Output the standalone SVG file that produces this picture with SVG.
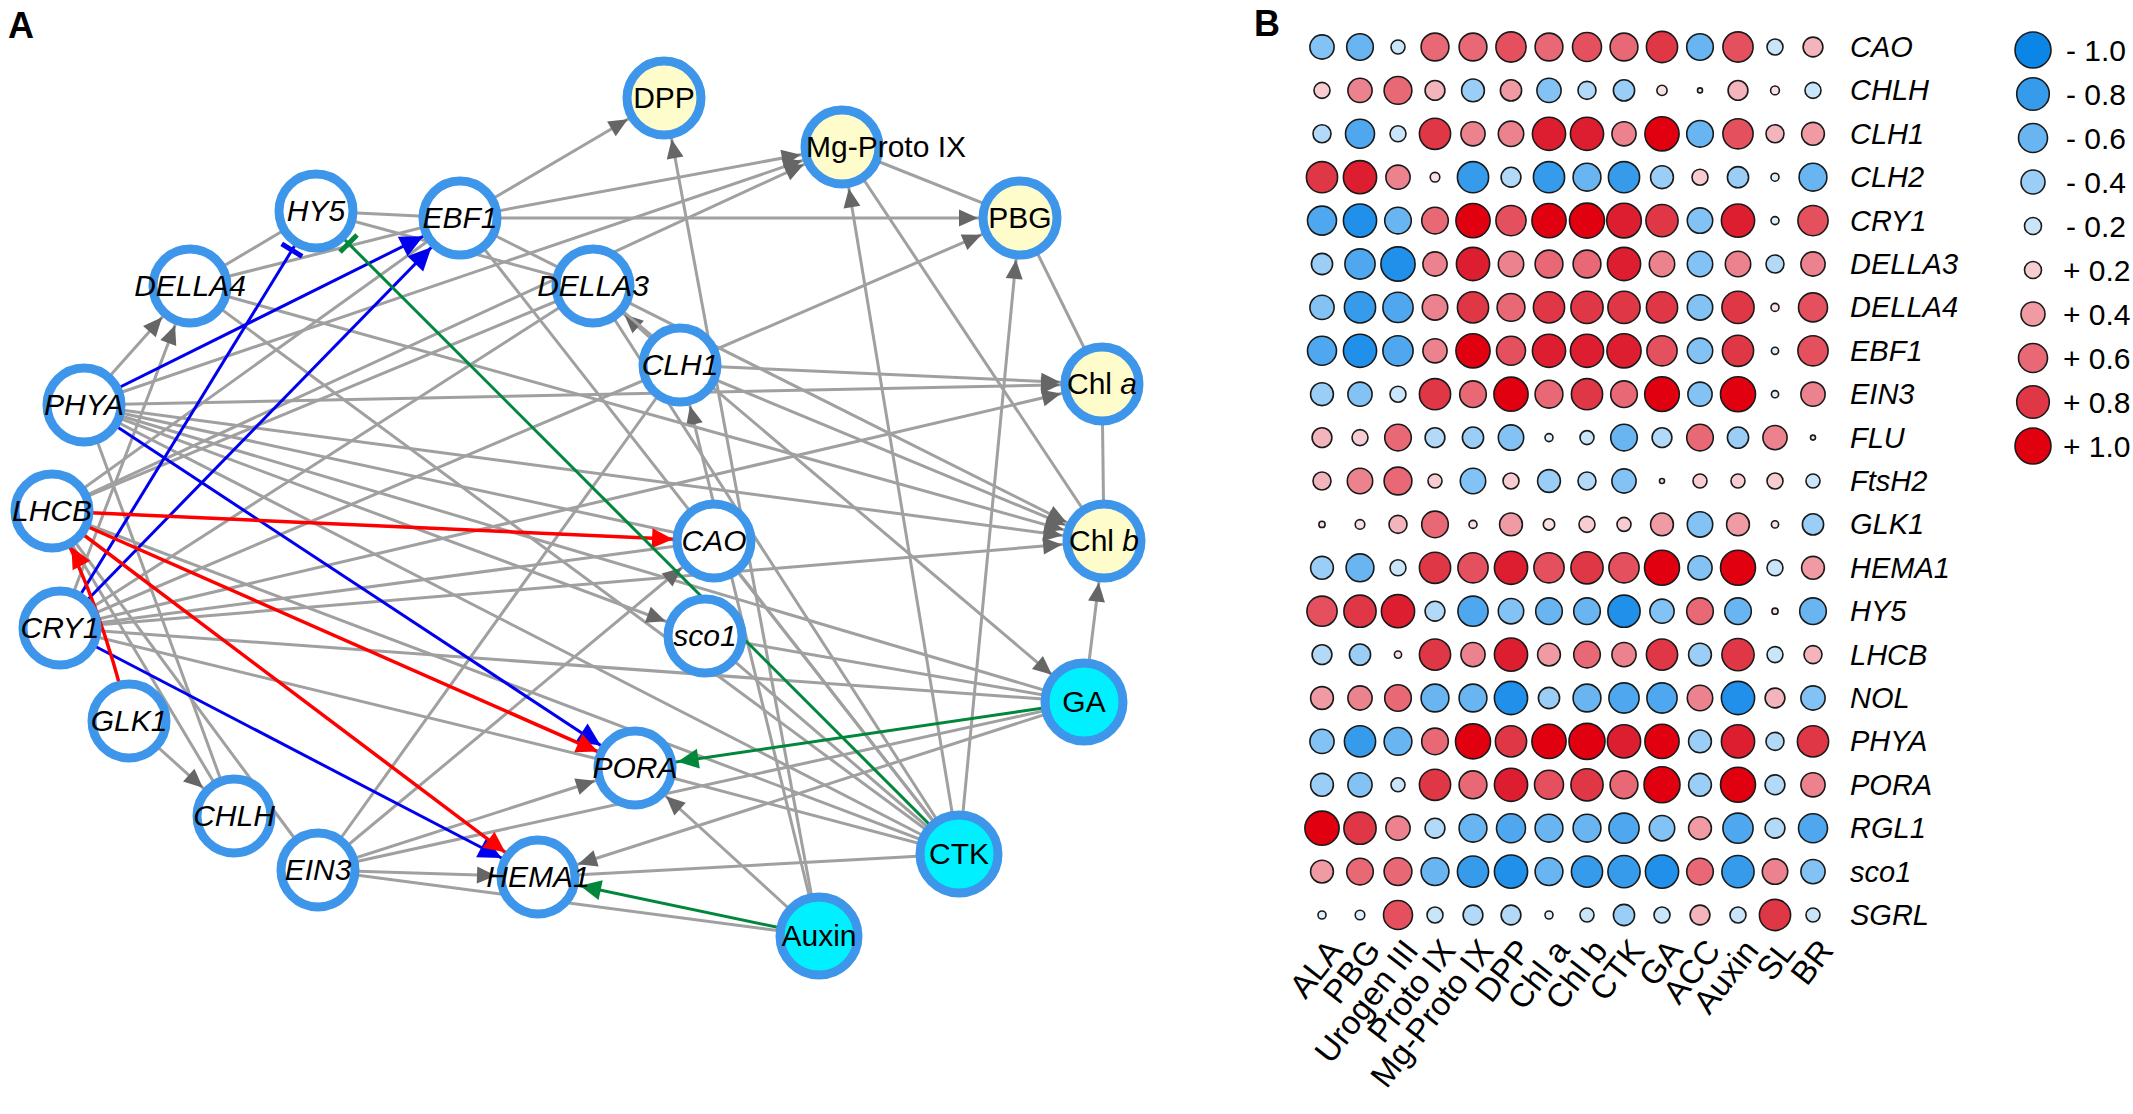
<svg xmlns="http://www.w3.org/2000/svg" width="2133" height="1114" viewBox="0 0 2133 1114">
<style>
.e{stroke:#a0a0a0;stroke-width:3;fill:none}
.ea{marker-end:url(#ag)}
.eb{stroke:#0000ee;stroke-width:3;fill:none;marker-end:url(#ab)}
.ebt{stroke:#0000ee;stroke-width:3;fill:none;marker-end:url(#tb)}
.er{stroke:#ff0000;stroke-width:3.5;fill:none;marker-end:url(#ar)}
.eg{stroke:#00873c;stroke-width:3;fill:none;marker-end:url(#agr)}
.egt{stroke:#00873c;stroke-width:3;fill:none;marker-end:url(#tg)}
.ring{stroke:#3d96ea;stroke-width:9}
.gene{fill:#ffffff}
.met{fill:#fffccb}
.hor{fill:#00f0ff}
.t{font-family:"Liberation Sans",Arial,sans-serif;font-size:30px;text-anchor:middle;fill:#000}
.i{font-style:italic}
.lab{font-family:"Liberation Sans",Arial,sans-serif;font-size:36px;font-weight:bold}
.dots circle{stroke:#1a1a1a;stroke-width:1.6}
.rl{font-family:"Liberation Sans",Arial,sans-serif;font-size:29px;font-style:italic}
.cl{font-family:"Liberation Sans",Arial,sans-serif;font-size:33px;text-anchor:end}
.lg{font-family:"Liberation Sans",Arial,sans-serif;font-size:30px}
.b1{fill:#dcefFc}.b2{fill:#c8e5fa}.b3{fill:#b2daf8}.b4{fill:#9aceF6}.b5{fill:#82c2f4}.b6{fill:#68b5f2}.b7{fill:#4fa8ef}.b8{fill:#379bec}.b9{fill:#2190ea}.b10{fill:#0b86e6}
.r1{fill:#fbe0e3}.r2{fill:#f8ccd1}.r3{fill:#f4b4bb}.r4{fill:#f09ba4}.r5{fill:#ec828d}.r6{fill:#e86975}.r7{fill:#e4505e}.r8{fill:#e03747}.r9{fill:#dd1e30}.r10{fill:#e0000f}
</style>
<defs>
<marker id="ag" markerUnits="userSpaceOnUse" viewBox="-70 -15 80 30" markerWidth="80" markerHeight="30" refX="0" refY="0" orient="auto"><path d="M-42,0 L-61,-8.5 L-61,8.5 Z" fill="#666"/></marker>
<marker id="ab" markerUnits="userSpaceOnUse" viewBox="-70 -15 80 30" markerWidth="80" markerHeight="30" refX="0" refY="0" orient="auto"><path d="M-41,0 L-64,-11 L-64,11 Z" fill="#0000ee"/></marker>
<marker id="ar" markerUnits="userSpaceOnUse" viewBox="-70 -15 80 30" markerWidth="80" markerHeight="30" refX="0" refY="0" orient="auto"><path d="M-41,0 L-62,-10 L-62,10 Z" fill="#ff0000"/></marker>
<marker id="agr" markerUnits="userSpaceOnUse" viewBox="-70 -15 80 30" markerWidth="80" markerHeight="30" refX="0" refY="0" orient="auto"><path d="M-43,0 L-64,-10 L-64,10 Z" fill="#00873c"/></marker>
<marker id="tb" markerUnits="userSpaceOnUse" viewBox="-70 -15 80 30" markerWidth="80" markerHeight="30" refX="0" refY="0" orient="auto"><path d="M-46,-12 L-46,12" stroke="#0000ee" stroke-width="5"/></marker>
<marker id="tg" markerUnits="userSpaceOnUse" viewBox="-70 -15 80 30" markerWidth="80" markerHeight="30" refX="0" refY="0" orient="auto"><path d="M-46,-12 L-46,12" stroke="#00873c" stroke-width="5"/></marker>
</defs>
<rect width="2133" height="1114" fill="#fff"/>
<text class="lab" x="8" y="38">A</text>
<text class="lab" x="1254" y="36">B</text>

<g id="connectors">
<g id="gray-undirected" class="e">
<line x1="316" y1="211" x2="460" y2="218"/>
<line x1="316" y1="211" x2="190" y2="286"/>
<line x1="190" y1="286" x2="460" y2="218"/>
<line x1="316" y1="211" x2="593" y2="286"/>
<line x1="842" y1="147" x2="1020" y2="218"/>
<line x1="842" y1="147" x2="1104" y2="541"/>
<line x1="1020" y1="218" x2="1102" y2="384"/>
<line x1="1102" y1="384" x2="1104" y2="541"/>
<line x1="460" y1="218" x2="959" y2="854"/>
<line x1="593" y1="286" x2="959" y2="854"/>
<line x1="714" y1="541" x2="959" y2="854"/>
<line x1="705" y1="636" x2="1084" y2="702"/>
<line x1="705" y1="636" x2="959" y2="854"/>
<line x1="84" y1="405" x2="1084" y2="702"/>
<line x1="84" y1="405" x2="714" y2="541"/>
<line x1="52" y1="511" x2="234" y2="816"/>
<line x1="52" y1="511" x2="318" y2="870"/>
<line x1="52" y1="511" x2="959" y2="854"/>
<line x1="52" y1="511" x2="460" y2="218"/>
<line x1="60" y1="628" x2="680" y2="365"/>
<line x1="60" y1="628" x2="714" y2="541"/>
<line x1="60" y1="628" x2="1084" y2="702"/>
<line x1="60" y1="628" x2="635" y2="768"/>
<line x1="318" y1="870" x2="680" y2="365"/>
<line x1="318" y1="870" x2="1084" y2="702"/>
<line x1="318" y1="870" x2="819" y2="936"/>
<line x1="635" y1="768" x2="959" y2="854"/>
<line x1="538" y1="877" x2="959" y2="854"/>
<line x1="190" y1="286" x2="959" y2="854"/>
<line x1="84" y1="405" x2="959" y2="854"/>
<line x1="52" y1="511" x2="593" y2="286"/>
<line x1="60" y1="628" x2="593" y2="286"/>
<line x1="84" y1="405" x2="234" y2="816"/>
</g>
<g id="gray-directed" class="e ea">
<line x1="84" y1="405" x2="190" y2="286"/>
<line x1="60" y1="628" x2="190" y2="286"/>
<line x1="460" y1="218" x2="664" y2="98"/>
<line x1="819" y1="936" x2="664" y2="98"/>
<line x1="460" y1="218" x2="842" y2="147"/>
<line x1="84" y1="405" x2="842" y2="147"/>
<line x1="52" y1="511" x2="842" y2="147"/>
<line x1="959" y1="854" x2="842" y2="147"/>
<line x1="460" y1="218" x2="1020" y2="218"/>
<line x1="680" y1="365" x2="1020" y2="218"/>
<line x1="959" y1="854" x2="1020" y2="218"/>
<line x1="680" y1="365" x2="593" y2="286"/>
<line x1="819" y1="936" x2="680" y2="365"/>
<line x1="680" y1="365" x2="1102" y2="384"/>
<line x1="84" y1="405" x2="1102" y2="384"/>
<line x1="60" y1="628" x2="1102" y2="384"/>
<line x1="680" y1="365" x2="1104" y2="541"/>
<line x1="84" y1="405" x2="1104" y2="541"/>
<line x1="190" y1="286" x2="1104" y2="541"/>
<line x1="460" y1="218" x2="1104" y2="541"/>
<line x1="60" y1="628" x2="1104" y2="541"/>
<line x1="1084" y1="702" x2="1104" y2="541"/>
<line x1="318" y1="870" x2="714" y2="541"/>
<line x1="84" y1="405" x2="705" y2="636"/>
<line x1="593" y1="286" x2="1084" y2="702"/>
<line x1="318" y1="870" x2="635" y2="768"/>
<line x1="819" y1="936" x2="635" y2="768"/>
<line x1="318" y1="870" x2="538" y2="877"/>
<line x1="1084" y1="702" x2="538" y2="877"/>
<line x1="129" y1="721" x2="234" y2="816"/>
</g>
<g id="colored">
<line class="eb" x1="84" y1="405" x2="460" y2="218"/>
<line class="eb" x1="60" y1="628" x2="460" y2="218"/>
<line class="ebt" x1="60" y1="628" x2="316" y2="211"/>
<line class="eb" x1="84" y1="405" x2="635" y2="768"/>
<line class="eb" x1="60" y1="628" x2="538" y2="877"/>
<line class="er" x1="52" y1="511" x2="714" y2="541"/>
<line class="er" x1="52" y1="511" x2="635" y2="768"/>
<line class="er" x1="52" y1="511" x2="538" y2="877"/>
<path class="er" d="M129,721 Q100,600 52,511"/>
<line class="egt" x1="959" y1="854" x2="316" y2="211"/>
<line class="eg" x1="1084" y1="702" x2="635" y2="768"/>
<line class="eg" x1="819" y1="936" x2="538" y2="877"/>
</g>
</g>

<g id="node-DPP"><circle class="ring met" cx="664" cy="98" r="37"/><text class="t" x="664" y="108">DPP</text></g>
<g id="node-MgProtoIX"><circle class="ring met" cx="842" cy="147" r="37"/><text class="t" x="806" y="157" style="text-anchor:start">Mg-Proto IX</text></g>
<g id="node-PBG"><circle class="ring met" cx="1020" cy="218" r="37"/><text class="t" x="1020" y="228">PBG</text></g>
<g id="node-HY5"><circle class="ring gene" cx="316" cy="211" r="37"/><text class="t i" x="316" y="221">HY5</text></g>
<g id="node-EBF1"><circle class="ring gene" cx="460" cy="218" r="37"/><text class="t i" x="460" y="228">EBF1</text></g>
<g id="node-DELLA4"><circle class="ring gene" cx="190" cy="286" r="37"/><text class="t i" x="190" y="296">DELLA4</text></g>
<g id="node-DELLA3"><circle class="ring gene" cx="593" cy="286" r="37"/><text class="t i" x="593" y="296">DELLA3</text></g>
<g id="node-CLH1"><circle class="ring gene" cx="680" cy="365" r="37"/><text class="t i" x="680" y="375">CLH1</text></g>
<g id="node-Chla"><circle class="ring met" cx="1102" cy="384" r="37"/><text class="t" x="1102" y="394">Chl <tspan font-style="italic">a</tspan></text></g>
<g id="node-PHYA"><circle class="ring gene" cx="84" cy="405" r="37"/><text class="t i" x="84" y="415">PHYA</text></g>
<g id="node-LHCB"><circle class="ring gene" cx="52" cy="511" r="37"/><text class="t i" x="52" y="521">LHCB</text></g>
<g id="node-CAO"><circle class="ring gene" cx="714" cy="541" r="37"/><text class="t i" x="714" y="551">CAO</text></g>
<g id="node-Chlb"><circle class="ring met" cx="1104" cy="541" r="37"/><text class="t" x="1104" y="551">Chl <tspan font-style="italic">b</tspan></text></g>
<g id="node-CRY1"><circle class="ring gene" cx="60" cy="628" r="37"/><text class="t i" x="60" y="638">CRY1</text></g>
<g id="node-sco1"><circle class="ring gene" cx="705" cy="636" r="37"/><text class="t i" x="705" y="646">sco1</text></g>
<g id="node-GA"><circle class="ring hor" cx="1084" cy="702" r="39"/><text class="t" x="1084" y="712">GA</text></g>
<g id="node-PORA"><circle class="ring gene" cx="635" cy="768" r="37"/><text class="t i" x="635" y="778">PORA</text></g>
<g id="node-GLK1"><circle class="ring gene" cx="129" cy="721" r="37"/><text class="t i" x="129" y="731">GLK1</text></g>
<g id="node-CHLH"><circle class="ring gene" cx="234" cy="816" r="37"/><text class="t i" x="234" y="826">CHLH</text></g>
<g id="node-CTK"><circle class="ring hor" cx="959" cy="854" r="39"/><text class="t" x="959" y="864">CTK</text></g>
<g id="node-EIN3"><circle class="ring gene" cx="318" cy="870" r="37"/><text class="t i" x="318" y="880">EIN3</text></g>
<g id="node-HEMA1"><circle class="ring gene" cx="538" cy="877" r="37"/><text class="t i" x="538" y="887">HEMA1</text></g>
<g id="node-Auxin"><circle class="ring hor" cx="819" cy="936" r="39"/><text class="t" x="819" y="946">Auxin</text></g>

<g id="dotplot" class="dots">
<g transform="translate(0,47)"><circle cx="1322" r="12.1" class="b5"/><circle cx="1360" r="13.3" class="b6"/><circle cx="1398" r="7" class="b2"/><circle cx="1435" r="13.9" class="r6"/><circle cx="1473" r="13.9" class="r6"/><circle cx="1511" r="15.1" class="r7"/><circle cx="1549" r="13.9" class="r6"/><circle cx="1587" r="14.5" class="r7"/><circle cx="1624" r="13.9" class="r6"/><circle cx="1662" r="15.6" class="r8"/><circle cx="1700" r="13.3" class="b6"/><circle cx="1738" r="15.1" class="r7"/><circle cx="1775" r="8" class="b2"/><circle cx="1813" r="9.9" class="r3"/></g>
<g transform="translate(0,90.4)"><circle cx="1322" r="8" class="r2"/><circle cx="1360" r="12.1" class="r5"/><circle cx="1398" r="13.9" class="r6"/><circle cx="1435" r="9.9" class="r3"/><circle cx="1473" r="11.4" class="b4"/><circle cx="1511" r="10.6" class="r4"/><circle cx="1549" r="12.1" class="b5"/><circle cx="1587" r="9" class="b3"/><circle cx="1624" r="10.6" class="b4"/><circle cx="1662" r="5.1" class="r1"/><circle cx="1700" r="2.5" class="r1"/><circle cx="1738" r="9.9" class="r3"/><circle cx="1775" r="4.4" class="r1"/><circle cx="1813" r="8" class="b2"/></g>
<g transform="translate(0,133.8)"><circle cx="1322" r="9" class="b3"/><circle cx="1360" r="14.5" class="b7"/><circle cx="1398" r="8" class="b2"/><circle cx="1435" r="15.6" class="r8"/><circle cx="1473" r="12.1" class="r5"/><circle cx="1511" r="12.7" class="r5"/><circle cx="1549" r="16.6" class="r9"/><circle cx="1587" r="16.6" class="r9"/><circle cx="1624" r="12.1" class="r5"/><circle cx="1662" r="17.1" class="r10"/><circle cx="1700" r="13.3" class="b6"/><circle cx="1738" r="15.1" class="r7"/><circle cx="1775" r="9" class="r3"/><circle cx="1813" r="11.4" class="r4"/></g>
<g transform="translate(0,177.2)"><circle cx="1322" r="15.6" class="r8"/><circle cx="1360" r="16.6" class="r9"/><circle cx="1398" r="12.1" class="r5"/><circle cx="1435" r="4.8" class="r1"/><circle cx="1473" r="15.6" class="b8"/><circle cx="1511" r="9.9" class="b3"/><circle cx="1549" r="15.6" class="b8"/><circle cx="1587" r="13.9" class="b6"/><circle cx="1624" r="15.6" class="b8"/><circle cx="1662" r="11.4" class="b4"/><circle cx="1700" r="8" class="r2"/><circle cx="1738" r="10.6" class="b4"/><circle cx="1775" r="4" class="b1"/><circle cx="1813" r="13.9" class="b6"/></g>
<g transform="translate(0,220.6)"><circle cx="1322" r="14.5" class="b7"/><circle cx="1360" r="16.6" class="b9"/><circle cx="1398" r="13.3" class="b6"/><circle cx="1435" r="13.3" class="r6"/><circle cx="1473" r="17.1" class="r10"/><circle cx="1511" r="15.1" class="r7"/><circle cx="1549" r="17.1" class="r10"/><circle cx="1587" r="17.5" class="r10"/><circle cx="1624" r="17.3" class="r9"/><circle cx="1662" r="16.1" class="r8"/><circle cx="1700" r="12.7" class="b5"/><circle cx="1738" r="16.6" class="r9"/><circle cx="1775" r="4" class="b1"/><circle cx="1813" r="15.1" class="r7"/></g>
<g transform="translate(0,264)"><circle cx="1322" r="10.6" class="b4"/><circle cx="1360" r="15.1" class="b7"/><circle cx="1398" r="17.1" class="b9"/><circle cx="1435" r="12.1" class="r5"/><circle cx="1473" r="16.6" class="r9"/><circle cx="1511" r="12.7" class="r5"/><circle cx="1549" r="13.9" class="r6"/><circle cx="1587" r="13.9" class="r6"/><circle cx="1624" r="16.6" class="r9"/><circle cx="1662" r="12.7" class="r5"/><circle cx="1700" r="12.7" class="b5"/><circle cx="1738" r="12.7" class="r5"/><circle cx="1775" r="9" class="b3"/><circle cx="1813" r="12.1" class="r5"/></g>
<g transform="translate(0,307.4)"><circle cx="1322" r="12.1" class="b5"/><circle cx="1360" r="15.6" class="b8"/><circle cx="1398" r="15.1" class="b7"/><circle cx="1435" r="12.7" class="r5"/><circle cx="1473" r="15.6" class="r8"/><circle cx="1511" r="13.9" class="r6"/><circle cx="1549" r="15.6" class="r8"/><circle cx="1587" r="16.1" class="r8"/><circle cx="1624" r="16.1" class="r8"/><circle cx="1662" r="15.6" class="r8"/><circle cx="1700" r="12.7" class="b5"/><circle cx="1738" r="16.1" class="r8"/><circle cx="1775" r="4" class="r1"/><circle cx="1813" r="14.5" class="r7"/></g>
<g transform="translate(0,350.8)"><circle cx="1322" r="14.5" class="b7"/><circle cx="1360" r="16.6" class="b9"/><circle cx="1398" r="15.1" class="b7"/><circle cx="1435" r="12.1" class="r5"/><circle cx="1473" r="17.1" class="r10"/><circle cx="1511" r="14.5" class="r7"/><circle cx="1549" r="16.6" class="r9"/><circle cx="1587" r="16.6" class="r9"/><circle cx="1624" r="17.1" class="r9"/><circle cx="1662" r="15.1" class="r7"/><circle cx="1700" r="12.7" class="b5"/><circle cx="1738" r="15.6" class="r8"/><circle cx="1775" r="3.6" class="b1"/><circle cx="1813" r="15.1" class="r7"/></g>
<g transform="translate(0,394.2)"><circle cx="1322" r="11.4" class="b4"/><circle cx="1360" r="12.1" class="b5"/><circle cx="1398" r="8" class="b2"/><circle cx="1435" r="15.6" class="r8"/><circle cx="1473" r="13.3" class="r6"/><circle cx="1511" r="17.1" class="r10"/><circle cx="1549" r="13.9" class="r6"/><circle cx="1587" r="15.6" class="r8"/><circle cx="1624" r="13.3" class="r6"/><circle cx="1662" r="17.3" class="r10"/><circle cx="1700" r="12.1" class="b5"/><circle cx="1738" r="17.5" class="r10"/><circle cx="1775" r="3.6" class="b1"/><circle cx="1813" r="12.1" class="r5"/></g>
<g transform="translate(0,437.6)"><circle cx="1322" r="9.9" class="r3"/><circle cx="1360" r="8" class="r2"/><circle cx="1398" r="13.3" class="r6"/><circle cx="1435" r="9.9" class="b3"/><circle cx="1473" r="10.6" class="b4"/><circle cx="1511" r="12.7" class="b5"/><circle cx="1549" r="4" class="b1"/><circle cx="1587" r="7" class="b2"/><circle cx="1624" r="13.3" class="b6"/><circle cx="1662" r="9.9" class="b3"/><circle cx="1700" r="13.3" class="r6"/><circle cx="1738" r="10.6" class="b4"/><circle cx="1775" r="12.1" class="r5"/><circle cx="1813" r="2.5" class="r1"/></g>
<g transform="translate(0,481)"><circle cx="1322" r="9" class="r3"/><circle cx="1360" r="12.7" class="r5"/><circle cx="1398" r="13.9" class="r6"/><circle cx="1435" r="7" class="r2"/><circle cx="1473" r="12.7" class="b5"/><circle cx="1511" r="8" class="r2"/><circle cx="1549" r="11.4" class="b4"/><circle cx="1587" r="9" class="b3"/><circle cx="1624" r="12.1" class="b5"/><circle cx="1662" r="2.5" class="r1"/><circle cx="1700" r="7" class="r2"/><circle cx="1738" r="7" class="r2"/><circle cx="1775" r="8" class="r2"/><circle cx="1813" r="7" class="b2"/></g>
<g transform="translate(0,524.4)"><circle cx="1322" r="3.1" class="r1"/><circle cx="1360" r="4.8" class="r1"/><circle cx="1398" r="9" class="r3"/><circle cx="1435" r="13.3" class="r6"/><circle cx="1473" r="4" class="r1"/><circle cx="1511" r="11.4" class="r4"/><circle cx="1549" r="5.7" class="r1"/><circle cx="1587" r="8" class="r2"/><circle cx="1624" r="7" class="r2"/><circle cx="1662" r="11.4" class="r4"/><circle cx="1700" r="12.7" class="b5"/><circle cx="1738" r="11.4" class="r4"/><circle cx="1775" r="3.6" class="r1"/><circle cx="1813" r="10.6" class="b4"/></g>
<g transform="translate(0,567.8)"><circle cx="1322" r="11.4" class="b4"/><circle cx="1360" r="13.9" class="b6"/><circle cx="1398" r="8" class="b2"/><circle cx="1435" r="15.6" class="r8"/><circle cx="1473" r="15.1" class="r7"/><circle cx="1511" r="16.6" class="r9"/><circle cx="1549" r="15.1" class="r7"/><circle cx="1587" r="16.1" class="r8"/><circle cx="1624" r="15.1" class="r7"/><circle cx="1662" r="17.5" class="r10"/><circle cx="1700" r="12.1" class="b5"/><circle cx="1738" r="17.5" class="r10"/><circle cx="1775" r="8" class="b2"/><circle cx="1813" r="11.4" class="r4"/></g>
<g transform="translate(0,611.2)"><circle cx="1322" r="15.1" class="r7"/><circle cx="1360" r="16.1" class="r8"/><circle cx="1398" r="16.6" class="r9"/><circle cx="1435" r="9.9" class="b3"/><circle cx="1473" r="15.1" class="b7"/><circle cx="1511" r="12.7" class="b5"/><circle cx="1549" r="13.3" class="b6"/><circle cx="1587" r="13.3" class="b6"/><circle cx="1624" r="16.1" class="b9"/><circle cx="1662" r="12.1" class="b5"/><circle cx="1700" r="13.3" class="r6"/><circle cx="1738" r="13.3" class="b6"/><circle cx="1775" r="3.1" class="r1"/><circle cx="1813" r="13.3" class="b6"/></g>
<g transform="translate(0,654.6)"><circle cx="1322" r="9.9" class="b3"/><circle cx="1360" r="10.6" class="b4"/><circle cx="1398" r="3.6" class="r1"/><circle cx="1435" r="15.6" class="r8"/><circle cx="1473" r="12.1" class="r5"/><circle cx="1511" r="16.6" class="r9"/><circle cx="1549" r="11.4" class="r4"/><circle cx="1587" r="13.3" class="r6"/><circle cx="1624" r="12.1" class="r5"/><circle cx="1662" r="15.6" class="r8"/><circle cx="1700" r="11.4" class="b4"/><circle cx="1738" r="16.1" class="r8"/><circle cx="1775" r="8" class="b2"/><circle cx="1813" r="9" class="r3"/></g>
<g transform="translate(0,698)"><circle cx="1322" r="11.4" class="r4"/><circle cx="1360" r="12.1" class="r5"/><circle cx="1398" r="13.3" class="r6"/><circle cx="1435" r="13.9" class="b6"/><circle cx="1473" r="13.9" class="b6"/><circle cx="1511" r="16.6" class="b9"/><circle cx="1549" r="10.6" class="b4"/><circle cx="1587" r="13.9" class="b6"/><circle cx="1624" r="15.1" class="b7"/><circle cx="1662" r="15.1" class="b7"/><circle cx="1700" r="12.7" class="r5"/><circle cx="1738" r="16.6" class="b9"/><circle cx="1775" r="9.9" class="r3"/><circle cx="1813" r="12.1" class="b5"/></g>
<g transform="translate(0,741.4)"><circle cx="1322" r="12.1" class="b5"/><circle cx="1360" r="15.6" class="b8"/><circle cx="1398" r="13.9" class="b6"/><circle cx="1435" r="13.3" class="r6"/><circle cx="1473" r="17.5" class="r10"/><circle cx="1511" r="15.6" class="r8"/><circle cx="1549" r="17.1" class="r10"/><circle cx="1587" r="18" class="r10"/><circle cx="1624" r="16.6" class="r9"/><circle cx="1662" r="17.1" class="r10"/><circle cx="1700" r="11.4" class="b4"/><circle cx="1738" r="16.6" class="r9"/><circle cx="1775" r="9" class="b3"/><circle cx="1813" r="15.6" class="r8"/></g>
<g transform="translate(0,784.8)"><circle cx="1322" r="11.4" class="b4"/><circle cx="1360" r="12.1" class="b5"/><circle cx="1398" r="7" class="b2"/><circle cx="1435" r="15.6" class="r8"/><circle cx="1473" r="13.9" class="r6"/><circle cx="1511" r="16.6" class="r9"/><circle cx="1549" r="14.5" class="r7"/><circle cx="1587" r="16.1" class="r8"/><circle cx="1624" r="13.9" class="r6"/><circle cx="1662" r="18" class="r10"/><circle cx="1700" r="11.4" class="b4"/><circle cx="1738" r="17.5" class="r10"/><circle cx="1775" r="9.9" class="b3"/><circle cx="1813" r="12.1" class="r5"/></g>
<g transform="translate(0,828.2)"><circle cx="1322" r="17.1" class="r10"/><circle cx="1360" r="16.1" class="r8"/><circle cx="1398" r="12.1" class="r5"/><circle cx="1435" r="9.9" class="b3"/><circle cx="1473" r="13.9" class="b6"/><circle cx="1511" r="14.5" class="b7"/><circle cx="1549" r="13.9" class="b6"/><circle cx="1587" r="13.9" class="b6"/><circle cx="1624" r="15.1" class="b7"/><circle cx="1662" r="12.7" class="b5"/><circle cx="1700" r="11.4" class="r4"/><circle cx="1738" r="15.1" class="b7"/><circle cx="1775" r="9.9" class="b3"/><circle cx="1813" r="14.5" class="b7"/></g>
<g transform="translate(0,871.6)"><circle cx="1322" r="11.4" class="r4"/><circle cx="1360" r="13.3" class="r6"/><circle cx="1398" r="13.9" class="r6"/><circle cx="1435" r="13.9" class="b6"/><circle cx="1473" r="15.6" class="b8"/><circle cx="1511" r="16.6" class="b9"/><circle cx="1549" r="13.9" class="b6"/><circle cx="1587" r="15.6" class="b8"/><circle cx="1624" r="16.1" class="b8"/><circle cx="1662" r="16.6" class="b9"/><circle cx="1700" r="13.3" class="r6"/><circle cx="1738" r="16.1" class="b8"/><circle cx="1775" r="12.7" class="r5"/><circle cx="1813" r="12.1" class="b5"/></g>
<g transform="translate(0,915)"><circle cx="1322" r="4" class="b1"/><circle cx="1360" r="4.8" class="b1"/><circle cx="1398" r="14.5" class="r7"/><circle cx="1435" r="8" class="b2"/><circle cx="1473" r="9.9" class="b3"/><circle cx="1511" r="9.9" class="b3"/><circle cx="1549" r="4" class="b1"/><circle cx="1587" r="7" class="b2"/><circle cx="1624" r="10.6" class="b4"/><circle cx="1662" r="8" class="b2"/><circle cx="1700" r="9.9" class="r3"/><circle cx="1738" r="8" class="b2"/><circle cx="1775" r="15.6" class="r8"/><circle cx="1813" r="7" class="b2"/></g>
</g>

<g id="row-labels" class="rl">
<text x="1850" y="57">CAO</text><text x="1850" y="100.4">CHLH</text><text x="1850" y="143.8">CLH1</text><text x="1850" y="187.2">CLH2</text><text x="1850" y="230.6">CRY1</text><text x="1850" y="274">DELLA3</text><text x="1850" y="317.4">DELLA4</text><text x="1850" y="360.8">EBF1</text><text x="1850" y="404.2">EIN3</text><text x="1850" y="447.6">FLU</text><text x="1850" y="491">FtsH2</text><text x="1850" y="534.4">GLK1</text><text x="1850" y="577.8">HEMA1</text><text x="1850" y="621.2">HY5</text><text x="1850" y="664.6">LHCB</text><text x="1850" y="708">NOL</text><text x="1850" y="751.4">PHYA</text><text x="1850" y="794.8">PORA</text><text x="1850" y="838.2">RGL1</text><text x="1850" y="881.6">sco1</text><text x="1850" y="925">SGRL</text>
</g>

<g id="col-labels" class="cl">
<text transform="translate(1344,951) rotate(-52)">ALA</text>
<text transform="translate(1382,951) rotate(-52)">PBG</text>
<text transform="translate(1420,951) rotate(-52)">Urogen III</text>
<text transform="translate(1457,951) rotate(-52)">Proto IX</text>
<text transform="translate(1495,951) rotate(-52)">Mg-Proto IX</text>
<text transform="translate(1533,951) rotate(-52)">DPP</text>
<text transform="translate(1571,951) rotate(-52)">Chl a</text>
<text transform="translate(1609,951) rotate(-52)">Chl b</text>
<text transform="translate(1646,951) rotate(-52)">CTK</text>
<text transform="translate(1684,951) rotate(-52)">GA</text>
<text transform="translate(1722,951) rotate(-52)">ACC</text>
<text transform="translate(1760,951) rotate(-52)">Auxin</text>
<text transform="translate(1797,951) rotate(-52)">SL</text>
<text transform="translate(1835,951) rotate(-52)">BR</text>
</g>

<g id="legend">
<g class="dots">
<circle cx="2033" cy="50" r="18" class="b10"/>
<circle cx="2033" cy="94" r="16.3" class="b8"/>
<circle cx="2033" cy="138" r="14.5" class="b6"/>
<circle cx="2033" cy="182" r="12" class="b4"/>
<circle cx="2033" cy="226" r="8.5" class="b2"/>
<circle cx="2033" cy="270" r="8.5" class="r2"/>
<circle cx="2033" cy="314" r="12" class="r4"/>
<circle cx="2033" cy="358" r="14.5" class="r6"/>
<circle cx="2033" cy="402" r="16.3" class="r8"/>
<circle cx="2033" cy="446" r="18" class="r10"/>
</g>
<g class="lg">
<text x="2066" y="61">- 1.0</text>
<text x="2066" y="105">- 0.8</text>
<text x="2066" y="149">- 0.6</text>
<text x="2066" y="193">- 0.4</text>
<text x="2066" y="237">- 0.2</text>
<text x="2063" y="281">+ 0.2</text>
<text x="2063" y="325">+ 0.4</text>
<text x="2063" y="369">+ 0.6</text>
<text x="2063" y="413">+ 0.8</text>
<text x="2063" y="457">+ 1.0</text>
</g>
</g>
</svg>
